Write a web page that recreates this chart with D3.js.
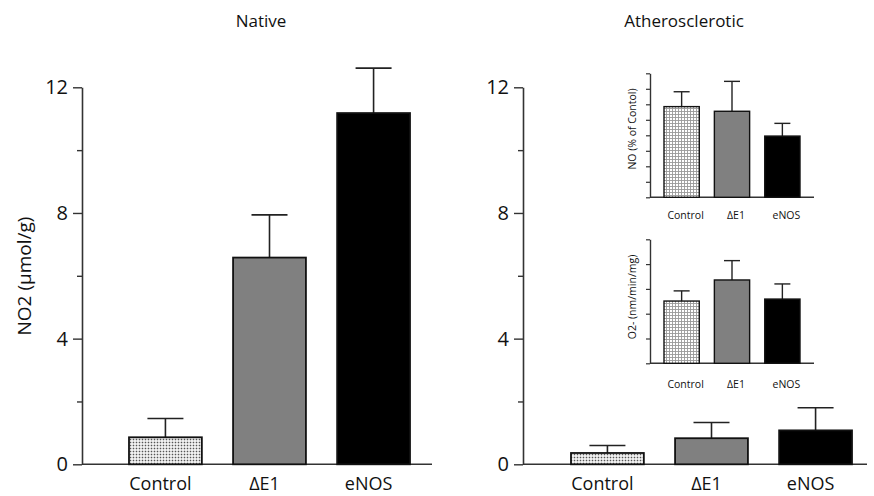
<!DOCTYPE html>
<html>
<head>
<meta charset="utf-8">
<script src="https://cdn.jsdelivr.net/npm/d3@7"></script>
<style>
  body { margin: 0; background: #fff; }
  svg { font-family: "Open Sans", "Noto Sans", sans-serif; }
</style>
</head>
<body>
<svg id="chart" width="874" height="496"></svg>
<script>
// categories and values
const categories = ["Control", "\u0394E1", "eNOS"];
const nativeValues = [0.86, 6.58, 11.18];
const nativeErrors = [1.46, 7.94, 12.61];
const atheroValues = [0.36, 0.83, 1.08];
const atheroErrors = [0.60, 1.33, 1.80];
const insetNoValues = [5.85, 5.55, 3.95];
const insetNoErrors = [6.81, 7.48, 4.77];
const insetO2Values = [2.51, 3.36, 2.59];
const insetO2Errors = [2.92, 4.14, 3.20];
const mainTicks = [0, 4, 8, 12];
const mainMinorTicks = [2, 6, 10];
const insetNoTicks = [0, 1, 2, 3, 4, 5, 6, 7, 8];
const insetO2Ticks = [0, 1, 2, 3, 4, 5];

const fills = ["url(#dots)", "#808080", "#000"];
const svg = d3.select("#chart");

// patterns for the Control bars
const defs = svg.append("defs");
const dots = defs.append("pattern").attr("id", "dots")
    .attr("width", 3).attr("height", 3).attr("patternUnits", "userSpaceOnUse");
dots.append("rect").attr("width", 3).attr("height", 3).attr("fill", "#fff");
dots.append("rect").attr("x", 0.7).attr("y", 0.7).attr("width", 1.6).attr("height", 1.6).attr("fill", "#555");
const grid = defs.append("pattern").attr("id", "grid")
    .attr("width", 3).attr("height", 3).attr("patternUnits", "userSpaceOnUse");
grid.append("rect").attr("width", 3).attr("height", 3).attr("fill", "#fff");
grid.append("path").attr("d", "M0,0.5H3M0.5,0V3").attr("stroke", "#999").attr("stroke-width", 0.9);

const y = d3.scaleLinear().domain([0, 12]).range([464.3, 87.3]);

function mainPanel(axisX, xEnd, bandRange, values, errors, title, titleX) {
    const x = d3.scaleBand().domain(categories).range(bandRange).paddingInner(0.3).paddingOuter(0);
    const g = svg.append("g");

    // x baseline
    g.append("line")
        .attr("x1", axisX).attr("x2", xEnd)
        .attr("y1", y(0)).attr("y2", y(0))
        .attr("stroke", "#333").attr("stroke-width", 1.6);

    // error bars (upper only)
    categories.forEach((c, i) => {
        const cx = x(c) + x.bandwidth() / 2;
        g.append("line").attr("x1", cx).attr("x2", cx)
            .attr("y1", y(values[i])).attr("y2", y(errors[i]))
            .attr("stroke", "#222").attr("stroke-width", 1.6);
        g.append("line").attr("x1", cx - 18).attr("x2", cx + 18)
            .attr("y1", y(errors[i])).attr("y2", y(errors[i]))
            .attr("stroke", "#222").attr("stroke-width", 1.6);
    });

    g.selectAll(".bar").data(values).enter().append("rect")
        .attr("class", "bar")
        .attr("x", (d, i) => x(categories[i]))
        .attr("y", d => y(d))
        .attr("width", x.bandwidth())
        .attr("height", d => y(0) - y(d))
        .attr("fill", (d, i) => fills[i])
        .attr("stroke", "#111").attr("stroke-width", 1.8);

    // y axis
    const yAxis = g.append("g")
        .attr("transform", `translate(${axisX},0)`)
        .call(d3.axisLeft(y).tickValues(mainTicks).tickSize(9).tickSizeOuter(0).tickPadding(5));
    yAxis.select(".domain").attr("stroke", "#333").attr("stroke-width", 1.6);
    yAxis.selectAll(".tick line").attr("stroke", "#333").attr("stroke-width", 1.4);
    yAxis.selectAll(".tick text").attr("font-size", 20).attr("fill", "#111")
        .attr("font-family", "'Open Sans', sans-serif");

    const minor = g.append("g")
        .attr("transform", `translate(${axisX},0)`)
        .call(d3.axisLeft(y).tickValues(mainMinorTicks).tickSize(5).tickFormat(""));
    minor.select(".domain").remove();
    minor.selectAll(".tick line").attr("stroke", "#333").attr("stroke-width", 1.4);

    // category labels
    g.selectAll(".cat").data(categories).enter().append("text")
        .attr("class", "cat")
        .attr("x", d => x(d) + x.bandwidth() / 2 - 5)
        .attr("y", 490)
        .attr("text-anchor", "middle")
        .attr("font-size", 18).attr("fill", "#111")
        .text(d => d);

    g.append("text")
        .attr("x", titleX).attr("y", 27)
        .attr("text-anchor", "middle")
        .attr("font-size", 17).attr("fill", "#111")
        .text(title);
}

function insetPanel(yRange, domainMax, ticks, values, errors, label, labelY, catY) {
    const iy = d3.scaleLinear().domain([0, domainMax]).range(yRange);
    const x = d3.scaleBand().domain(categories).range([664, 800]).paddingInner(0.3).paddingOuter(0);
    const g = svg.append("g");
    const axisX = 650;

    g.append("line")
        .attr("x1", axisX).attr("x2", 814)
        .attr("y1", iy(0)).attr("y2", iy(0))
        .attr("stroke", "#333").attr("stroke-width", 1.4);

    categories.forEach((c, i) => {
        const cx = x(c) + x.bandwidth() / 2;
        g.append("line").attr("x1", cx).attr("x2", cx)
            .attr("y1", iy(values[i])).attr("y2", iy(errors[i]))
            .attr("stroke", "#222").attr("stroke-width", 1.4);
        g.append("line").attr("x1", cx - 8).attr("x2", cx + 8)
            .attr("y1", iy(errors[i])).attr("y2", iy(errors[i]))
            .attr("stroke", "#222").attr("stroke-width", 1.4);
    });

    g.selectAll(".bar").data(values).enter().append("rect")
        .attr("class", "bar")
        .attr("x", (d, i) => x(categories[i]))
        .attr("y", d => iy(d))
        .attr("width", x.bandwidth())
        .attr("height", d => iy(0) - iy(d))
        .attr("fill", (d, i) => i === 0 ? "url(#grid)" : fills[i])
        .attr("stroke", "#111").attr("stroke-width", 1.4);

    const ax = g.append("g")
        .attr("transform", `translate(${axisX},0)`)
        .call(d3.axisLeft(iy).tickValues(ticks).tickSize(4).tickSizeOuter(0).tickFormat(""));
    ax.select(".domain").attr("stroke", "#333").attr("stroke-width", 1.4);
    ax.selectAll(".tick line").attr("stroke", "#333").attr("stroke-width", 1.2);

    g.selectAll(".cat").data(categories).enter().append("text")
        .attr("class", "cat")
        .attr("x", d => x(d) + x.bandwidth() / 2 + 4)
        .attr("y", catY)
        .attr("text-anchor", "middle")
        .attr("font-size", 10.5).attr("fill", "#111")
        .text(d => d);

    g.append("text")
        .attr("transform", `translate(636,${labelY}) rotate(-90)`)
        .attr("text-anchor", "middle")
        .attr("font-size", 10.5).attr("fill", "#111")
        .text(label);
}

mainPanel(82, 432, [129, 410], nativeValues, nativeErrors, "Native", 261);
mainPanel(523, 867, [571, 852], atheroValues, atheroErrors, "Atherosclerotic", 684);

svg.append("text")
    .attr("transform", "translate(31,276) rotate(-90)")
    .attr("text-anchor", "middle")
    .attr("font-size", 19).attr("fill", "#111")
    .text("NO2 (\u03bcmol/g)");

insetPanel([197.3, 73.3], 8, insetNoTicks, insetNoValues, insetNoErrors, "NO (% of Contol)", 129, 218.5);
insetPanel([363.3, 239.3], 5, insetO2Ticks, insetO2Values, insetO2Errors, "O2- (nm/min/mg)", 297, 387.5);
</script>
</body>
</html>
